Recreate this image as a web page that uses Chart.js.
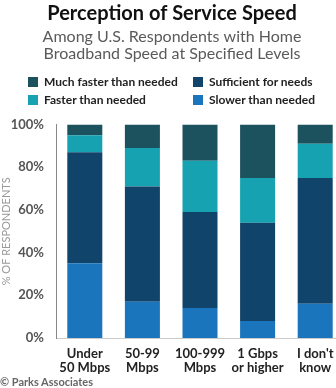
<!DOCTYPE html>
<html>
<head>
<meta charset="utf-8">
<script src="https://cdn.jsdelivr.net/npm/chart.js@4"></script>
<style>
  html, body { margin: 0; padding: 0; background: #fff; overflow: hidden; }
  body { width: 336px; height: 388px; position: relative; font-family: Lato, sans-serif; }
  #wrap { position: absolute; left: 0; top: 0; width: 344px; height: 388px; }
  .leg { position: absolute; font-weight: bold; font-size: 12px; color: #222; white-space: nowrap; line-height: 14px; }
  .leg span { display: inline-block; width: 10px; height: 10px; margin-right: 6px; vertical-align: -1px; }
  #copy { position: absolute; left: 0; top: 375px; font-size: 11px; font-weight: bold; color: #666; }
</style>
</head>
<body>
<div id="wrap"><canvas id="grafico" width="344" height="388"></canvas></div>
<div class="leg" style="left:28px;top:75px"><span style="background:#1c525e"></span>Much faster than needed</div>
<div class="leg" style="left:193px;top:75px"><span style="background:#11446b"></span>Sufficient for needs</div>
<div class="leg" style="left:28px;top:93px"><span style="background:#17a2b2"></span>Faster than needed</div>
<div class="leg" style="left:193px;top:93px"><span style="background:#1a75bc"></span>Slower than needed</div>
<div id="copy">© Parks Associates</div>
<script>
const ctx = document.getElementById('grafico');

let categorias = [["Under", "50 Mbps"], ["50-99", "Mbps"], ["100-999", "Mbps"], ["1 Gbps", "or higher"], ["I don't", "know"]]
let lenta = [35, 17, 14, 8, 16]
let suficiente = [52, 54, 45, 46, 59]
let rapida = [8, 18, 24, 21, 16]
let muitoRapida = [5, 11, 17, 25, 9]

Chart.defaults.font.family = 'Lato, sans-serif';

new Chart(ctx, {
    type: 'bar',
    data: {
        labels: categorias,
        datasets: [
            { label: 'Slower than needed', data: lenta, backgroundColor: '#1a75bc' },
            { label: 'Sufficient for needs', data: suficiente, backgroundColor: '#11446b' },
            { label: 'Faster than needed', data: rapida, backgroundColor: '#17a2b2' },
            { label: 'Much faster than needed', data: muitoRapida, backgroundColor: '#1c525e' }
        ]
    },
    options: {
        responsive: false,
        animation: false,
        devicePixelRatio: 1,
        datasets: { bar: { barPercentage: 0.608, categoryPercentage: 1, borderWidth: 0 } },
        layout: { padding: { bottom: 12, right: 0, left: 0 } },
        plugins: {
            legend: { display: false },
            tooltip: { enabled: false },
            title: {
                display: true,
                text: 'Perception of Service Speed',
                color: '#111',
                font: { size: 20, weight: 'bold', lineHeight: 1.2 },
                padding: { top: 2, bottom: 2 }
            },
            subtitle: {
                display: true,
                text: ['Among U.S. Respondents with Home', 'Broadband Speed at Specified Levels'],
                color: '#5a5a5a',
                font: { size: 16, lineHeight: 1.08 },
                padding: { top: 0, bottom: 62 }
            }
        },
        scales: {
            x: {
                stacked: true,
                grid: { display: false },
                border: { color: '#ccc' },
                ticks: { color: '#222', font: { size: 13, weight: 'bold', lineHeight: 1.05 }, padding: 1, maxRotation: 0 },
                afterFit: s => { s.height = 38; }
            },
            y: {
                stacked: true,
                min: 0,
                max: 100,
                grid: { display: false },
                border: { display: true, color: '#888', dash: [1, 2] },
                ticks: { stepSize: 20, color: '#555', padding: 4, font: { size: 13, weight: 'bold' }, callback: v => v + '%' },
                title: { display: true, text: '% OF RESPONDENTS', color: '#999', font: { size: 11 }, padding: 0 },
                afterFit: s => { s.width = 56; }
            }
        }
    }
});
</script>
</body>
</html>
